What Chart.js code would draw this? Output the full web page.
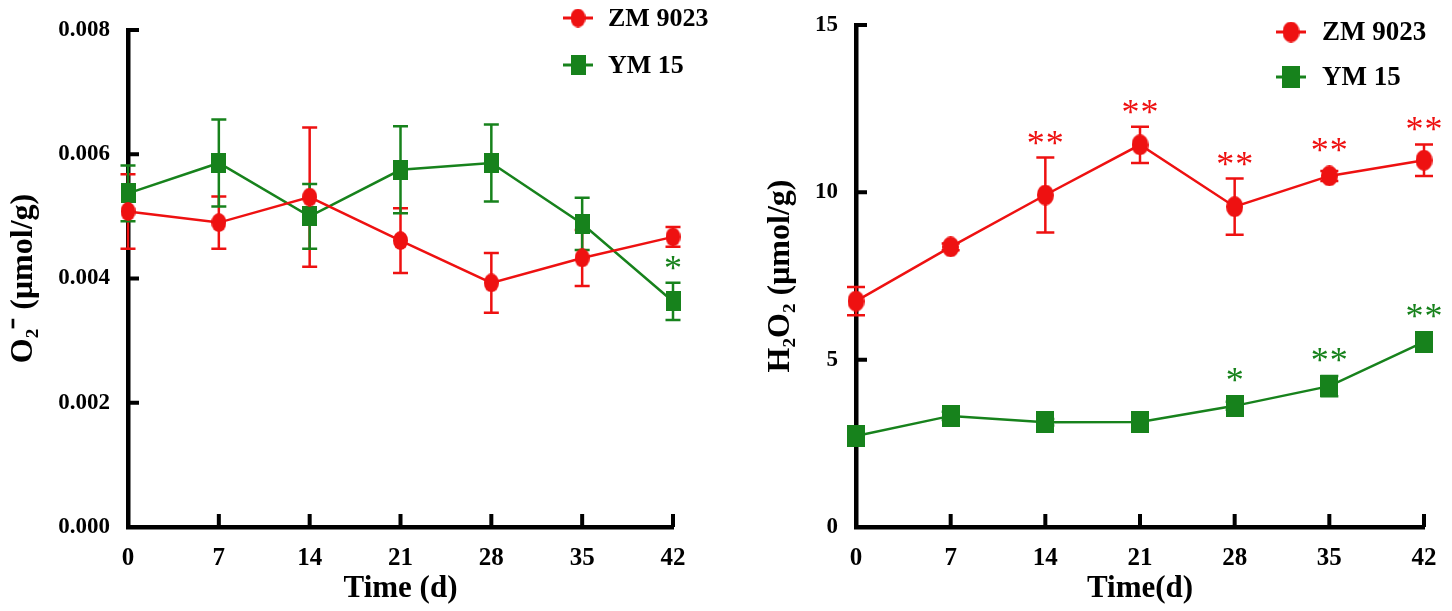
<!DOCTYPE html>
<html>
<head>
<meta charset="utf-8">
<script src="https://cdn.jsdelivr.net/npm/chart.js@4.4.1/dist/chart.umd.min.js"></script>
<style>
html, body { margin: 0; padding: 0; background: #fff; }
#izq { position: absolute; left: 0; top: 0; }
#der { position: absolute; left: 730px; top: 0; }
</style>
</head>
<body>
<canvas id="izq" width="730" height="611"></canvas>
<canvas id="der" width="722" height="611"></canvas>
<script>
var dias = [0, 7, 14, 21, 28, 35, 42];
var series = ["ZM 9023", "YM 15"];

// O2- (umol/g)
var o2Zm = [0.00508, 0.00490, 0.00531, 0.00461, 0.00393, 0.00433, 0.00467];
var o2ZmErr = [0.00060, 0.00042, 0.00112, 0.00052, 0.00048, 0.00045, 0.00016];
var o2Ym = [0.00537, 0.00586, 0.00500, 0.00575, 0.00586, 0.00488, 0.00363];
var o2YmErr = [0.00045, 0.00070, 0.00052, 0.00070, 0.00062, 0.00042, 0.00030];
var o2ZmStars = ["", "", "", "", "", "", ""];
var o2YmStars = ["", "", "", "", "", "", "*"];
var o2Ticks = [0, 0.002, 0.004, 0.006, 0.008];

// H2O2 (umol/g)
var h2Zm = [6.75, 8.37, 9.92, 11.42, 9.57, 10.49, 10.96];
var h2ZmErr = [0.42, 0.10, 1.12, 0.54, 0.84, 0.15, 0.47];
var h2Ym = [2.72, 3.32, 3.13, 3.14, 3.62, 4.21, 5.53];
var h2YmErr = [0.10, 0.12, 0.10, 0.25, 0.12, 0.30, 0.20];
var h2ZmStars = ["", "", "**", "**", "**", "**", "**"];
var h2YmStars = ["", "", "", "", "*", "**", "**"];
var h2Ticks = [0, 5, 10, 15];

var rojo = '#ee1111';
var verde = '#17821c';
var fuente = "'Liberation Serif', 'Times New Roman', serif";

function marcador(forma, color, w, h) {
    var c = document.createElement('canvas');
    c.width = w; c.height = h;
    var ctx = c.getContext('2d');
    ctx.fillStyle = color;
    if (forma == 'circulo') {
        ctx.beginPath();
        ctx.ellipse(w / 2, h / 2, w / 2, h / 2, 0, 0, Math.PI * 2);
        ctx.fill();
    } else {
        ctx.fillRect(0, 0, w, h);
    }
    return c;
}

// error bars, inward ticks, stars and the legend
function extras(cfg) {
    return {
        id: 'extras',
        beforeDatasetsDraw: function(chart) {
            var ctx = chart.ctx, sx = chart.scales.x, sy = chart.scales.y;
            ctx.save();
            cfg.series.forEach(function(s) {
                ctx.strokeStyle = s.color;
                ctx.lineWidth = 2.5;
                for (var i = 0; i < dias.length; i++) {
                    var px = sx.getPixelForValue(dias[i]);
                    var arriba = sy.getPixelForValue(s.medias[i] + s.errores[i]);
                    var abajo = sy.getPixelForValue(s.medias[i] - s.errores[i]);
                    ctx.beginPath();
                    ctx.moveTo(px, arriba); ctx.lineTo(px, abajo);
                    ctx.moveTo(px - cfg.tapa / 2, arriba); ctx.lineTo(px + cfg.tapa / 2, arriba);
                    ctx.moveTo(px - cfg.tapa / 2, abajo); ctx.lineTo(px + cfg.tapa / 2, abajo);
                    ctx.stroke();
                }
            });
            ctx.restore();
        },
        afterDraw: function(chart) {
            var ctx = chart.ctx, sx = chart.scales.x, sy = chart.scales.y, area = chart.chartArea;
            ctx.save();
            ctx.strokeStyle = '#000';
            ctx.lineWidth = 4;
            ctx.beginPath();
            sy.ticks.forEach(function(t) {
                var py = sy.getPixelForValue(t.value);
                ctx.moveTo(area.left, py); ctx.lineTo(area.left + 11, py);
            });
            sx.ticks.forEach(function(t) {
                var px = sx.getPixelForValue(t.value);
                ctx.moveTo(px, area.bottom); ctx.lineTo(px, area.bottom - 13);
            });
            ctx.stroke();

            // asterisks
            ctx.font = '36px ' + fuente;
            ctx.textAlign = 'center';
            ctx.textBaseline = 'alphabetic';
            cfg.series.forEach(function(s) {
                ctx.fillStyle = s.color;
                for (var i = 0; i < dias.length; i++) {
                    var n = s.estrellas[i].length;
                    if (!n) continue;
                    var px = sx.getPixelForValue(dias[i]);
                    var top = Math.min(sy.getPixelForValue(s.medias[i] + s.errores[i]),
                                       sy.getPixelForValue(s.medias[i]) - s.marca.height / 2);
                    var cy = top - 20;
                    for (var k = 0; k < n; k++) {
                        ctx.fillText('*', px + (k - (n - 1) / 2) * 19, cy + 17);
                    }
                }
            });

            // legend
            var lg = cfg.leyenda;
            ctx.font = 'bold ' + lg.size + 'px ' + fuente;
            ctx.textAlign = 'left';
            ctx.textBaseline = 'middle';
            cfg.series.forEach(function(s, j) {
                var y = lg.y[j];
                ctx.strokeStyle = s.color;
                ctx.lineWidth = 3;
                ctx.beginPath();
                ctx.moveTo(lg.x, y); ctx.lineTo(lg.x + 30, y);
                ctx.stroke();
                ctx.drawImage(s.marca, lg.x + 15 - s.marca.width / 2, y - s.marca.height / 2);
                ctx.fillStyle = '#000';
                ctx.fillText(series[j], lg.x + lg.gap, y + 1);
            });
            ctx.restore();
        }
    };
}

function grafico(id, opt) {
    var ds = opt.series.map(function(s, j) {
        return {
            label: series[j],
            data: dias.map(function(d, i) { return {x: d, y: s.medias[i]}; }),
            borderColor: s.color,
            backgroundColor: s.color,
            borderWidth: 2.5,
            pointStyle: s.marca,
            pointRadius: 9,
            pointHoverRadius: 9,
            clip: false,
            tension: 0
        };
    });
    return new Chart(document.getElementById(id).getContext('2d'), {
        type: 'line',
        data: { datasets: ds },
        options: {
            responsive: false,
            animation: false,
            events: [],
            layout: { padding: { top: opt.top, right: opt.right, left: 0, bottom: 0 } },
            plugins: { legend: { display: false }, tooltip: { enabled: false } },
            scales: {
                x: {
                    type: 'linear', min: 0, max: 42,
                    afterFit: function(s) { s.height = 84; },
                    afterBuildTicks: function(s) { s.ticks = dias.map(function(v) { return {value: v}; }); },
                    grid: { display: false },
                    border: { display: true, color: '#000', width: 4.5 },
                    ticks: { color: '#000', padding: 9, font: { family: fuente, size: 25, weight: 'bold' } },
                    title: { display: true, text: opt.xTitle, color: '#000', padding: { top: 0, bottom: 3 },
                             font: { family: fuente, size: 31, weight: 'bold' } }
                },
                y: {
                    min: opt.yTicks[0], max: opt.yTicks[opt.yTicks.length - 1],
                    afterFit: function(s) { s.width = opt.left; },
                    afterBuildTicks: function(s) { s.ticks = opt.yTicks.map(function(v) { return {value: v}; }); },
                    grid: { display: false },
                    border: { display: true, color: '#000', width: 4.5 },
                    ticks: { color: '#000', padding: 10, font: { family: fuente, size: 23, weight: 'bold' },
                             callback: opt.formato },
                    title: { display: true, text: opt.yTitle, color: '#000', padding: { top: opt.titlePad, bottom: 0 },
                             font: { family: fuente, size: 32, weight: 'bold' } }
                }
            }
        },
        plugins: [extras(opt)]
    });
}

grafico('izq', {
    top: 30, right: 57, left: 128, titlePad: 5, tapa: 15,
    xTitle: 'Time (d)', yTitle: 'O₂⁻ (μmol/g)', yTicks: o2Ticks,
    formato: function(v) { return v.toFixed(3); },
    leyenda: { x: 563, y: [18, 65], size: 26, gap: 45 },
    series: [
        { medias: o2Zm, errores: o2ZmErr, estrellas: o2ZmStars, color: rojo, marca: marcador('circulo', rojo, 15, 19) },
        { medias: o2Ym, errores: o2YmErr, estrellas: o2YmStars, color: verde, marca: marcador('cuadro', verde, 15, 20) }
    ]
});

grafico('der', {
    top: 25, right: 28, left: 126, titlePad: 32, tapa: 18,
    xTitle: 'Time(d)', yTitle: 'H₂O₂ (μmol/g)', yTicks: h2Ticks,
    formato: function(v) { return v; },
    leyenda: { x: 546, y: [32, 77], size: 27, gap: 46 },
    series: [
        { medias: h2Zm, errores: h2ZmErr, estrellas: h2ZmStars, color: rojo, marca: marcador('circulo', rojo, 17, 21) },
        { medias: h2Ym, errores: h2YmErr, estrellas: h2YmStars, color: verde, marca: marcador('cuadro', verde, 18, 22) }
    ]
});
</script>
</body>
</html>
